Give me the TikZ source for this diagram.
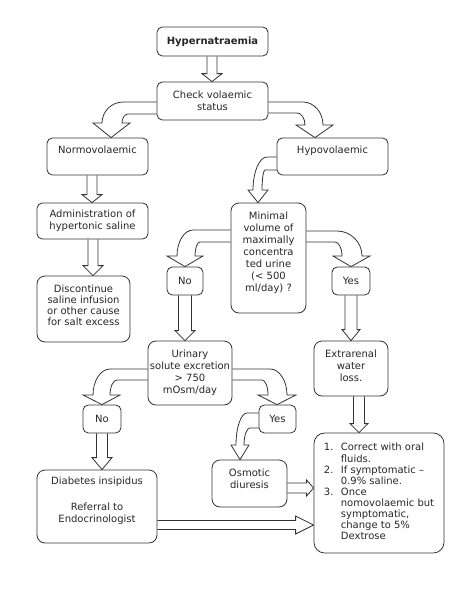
\documentclass[tikz,border=0pt]{standalone}
\usepackage{fontspec}
\setmainfont{DejaVu Sans}
\usetikzlibrary{calc}

\tikzset{
  box/.style={draw=black!80, line width=0.6pt, rounded corners=4pt, align=center,
    inner sep=1pt, text=black!85, font=\fontsize{7.5}{9}\selectfont},
  boxsize/.style 2 args={minimum width=#1*0.75pt, minimum height=#2*0.75pt},
  fat/.style={draw=black!80, line width=0.6pt, line join=miter}
}

% straight hollow arrows: from, to, x (or y), half shaft, half head, head length
\newcommand{\fatdown}[6]{%
  \draw[fat] (#3-#4,0 |- #1.south) -- ($(#3,0 |- #2.north)+(-#4,-#6)$) -- ++(#4-#5,0)
    -- (#3,0 |- #2.north) -- ++(#5,-#6) -- ++(#4-#5,0) -- (#3+#4,0 |- #1.south);}
\newcommand{\fatright}[6]{%
  \draw[fat] (#1.east |- 0,#3-#4) -- ($(#2.west |- 0,#3)+(-#6,-#4)$) -- ++(0,#4-#5)
    -- (#2.west |- 0,#3) -- ++(-#6,#5) -- ++(0,#4-#5) -- (#1.east |- 0,#3+#4);}

\begin{document}
\begin{tikzpicture}[x=0.75pt, y=-0.75pt]
    \useasboundingbox (0,0) rectangle (462,600);

    % Boxes
    \node[box, font=\bfseries\fontsize{7.5}{9}\selectfont, boxsize={111}{29}] (hyper) at (212.5,41.5) {Hypernatraemia};
    \node[box, boxsize={111}{38}] (check) at (212.5,101) {Check volaemic\\status};
    \node[box, boxsize={101}{37}, text height=5.5pt, text depth=10.5pt] (normo) at (97.5,156.5) {Normovolaemic};
    \node[box, boxsize={111}{37}, text height=5.5pt, text depth=10.5pt] (hypo) at (332.5,156.5) {Hypovolaemic};
    \node[box, boxsize={111}{36}] (admin) at (92.5,221) {Administration of\\hypertonic saline};
    \node[box, boxsize={93}{66}, rounded corners=6pt, font=\fontsize{7.5}{8.3}\selectfont, text depth=6pt] (disc) at (83.5,309)
        {Discontinue\\saline infusion\\or other cause\\for salt excess};
    \node[box, boxsize={75}{110}, rounded corners=6pt, text depth=9.3pt] (minvol) at (268.5,258)
        {Minimal\\volume of\\maximally\\concentra\\ted urine\\(< 500\\ml/day) ?};
    \node[box, boxsize={36}{28}] (no1) at (185,281) {No};
    \node[box, boxsize={38}{28}] (yes1) at (351,281) {Yes};
    \node[box, boxsize={84}{64}, rounded corners=6pt] (urin) at (190,373) {Urinary\\solute excretion\\> 750\\mOsm/day};
    \node[box, boxsize={74}{55}, rounded corners=6pt, text depth=4.5pt] (extra) at (351,368.5) {Extrarenal\\water\\loss.};
    \node[box, boxsize={38}{28}] (no2) at (102,419) {No};
    \node[box, boxsize={37}{28}] (yes2) at (277.5,419) {Yes};
    \node[box, boxsize={75}{47}, rounded corners=6pt, text depth=6.75pt] (osm) at (249.5,483.5) {Osmotic\\diuresis};
    \node[box, boxsize={120}{73}, rounded corners=6pt, text depth=10pt] (diab) at (97,506.5)
        {Diabetes insipidus\\[10.4pt]Referral to\\Endocrinologist};
    \node[box, boxsize={130}{120}, rounded corners=8pt, align=left, font=\fontsize{7.5}{8.3}\selectfont] (final) at (379,493)
        {\begin{tabular}{@{}l@{\hspace{5.6pt}}l@{}}
         1. & Correct with oral\\
            & fluids.\\
         2. & If symptomatic –\\
            & 0.9\% saline.\\
         3. & Once\\
            & nomovolaemic but\\
            & symptomatic,\\
            & change to 5\%\\
            & Dextrose
         \end{tabular}};

    % Straight arrows
    \fatdown{hyper}{check}{212}{5}{10}{8}
    \fatdown{normo}{admin}{92}{5}{10}{8}
    \fatdown{admin}{disc}{93}{5}{10}{10}
    \fatdown{no1}{urin}{185}{6.5}{10}{10}
    \fatdown{yes1}{extra}{351}{6}{9}{11}
    \fatdown{no2}{diab}{102}{5.5}{10}{12}
    \fatdown{extra}{final}{359}{5.5}{9}{9}
    \fatright{osm}{final}{488}{5}{8}{7}
    \fatright{diab}{final}{525}{4.5}{9}{18}

    % Curved arrows
    \draw[fat] (check.west |- 0,102) -- (123,102) .. controls (111.5,102) and (102,111.5) .. (102,123)
        -- (93,123) -- (111,0 |- normo.north) -- (130,123) -- (122,123)
        .. controls (122,118) and (124.7,114) .. (128,114) -- (check.west |- 0,114);
    \draw[fat] (check.east |- 0,102) -- (303,102) .. controls (314,102) and (323,112.4) .. (323,125)
        -- (333,125) -- (315,0 |- hypo.north) -- (296,125) -- (305,125)
        .. controls (305,118.4) and (301.4,113) .. (297,113) -- (check.east |- 0,113);
    \draw[fat] (hypo.west |- 0,157) -- (267,157) .. controls (259.3,157) and (253,172) .. (253,190)
        -- (248,190) -- (258,0 |- minvol.north) -- (268,190) -- (262,190)
        .. controls (262,179) and (263.4,170) .. (265,170) -- (hypo.west |- 0,170);
    \draw[fat] (minvol.west |- 0,230) -- (193,230) .. controls (184.2,230) and (177,241.7) .. (177,256)
        -- (167,256) -- (185,0 |- no1.north) -- (203,256) -- (195,256)
        .. controls (195,248.3) and (197.25,242) .. (200,242) -- (minvol.west |- 0,242);
    \draw[fat] (minvol.east |- 0,231) -- (337,231) .. controls (350.75,231) and (362,242.25) .. (362,256)
        -- (370,256) -- (351,0 |- yes1.north) -- (333,256) -- (342,256)
        .. controls (342,248.3) and (338.85,242) .. (335,242) -- (minvol.east |- 0,242);
    \draw[fat] (urin.west |- 0,369) -- (110,369) .. controls (100.65,369) and (93,380.7) .. (93,395)
        -- (83,395) -- (102,0 |- no2.north) -- (120,395) -- (110,395)
        .. controls (110,386.75) and (113.15,380) .. (117,380) -- (urin.west |- 0,380);
    \draw[fat] (urin.east |- 0,369) -- (270,369) .. controls (279.35,369) and (287,380.7) .. (287,395)
        -- (296,395) -- (277,0 |- yes2.north) -- (258,395) -- (268,395)
        .. controls (268,386.75) and (265.3,380) .. (262,380) -- (urin.east |- 0,380);
    \draw[fat] (yes2.west |- 0,413) -- (247,413) .. controls (241,413) and (236,427.4) .. (236,445)
        -- (231,445) -- (240,0 |- osm.north) -- (249,445) -- (244,445)
        .. controls (244,435.65) and (246.7,428) .. (250,428) -- (yes2.west |- 0,428);
\end{tikzpicture}
\end{document}
